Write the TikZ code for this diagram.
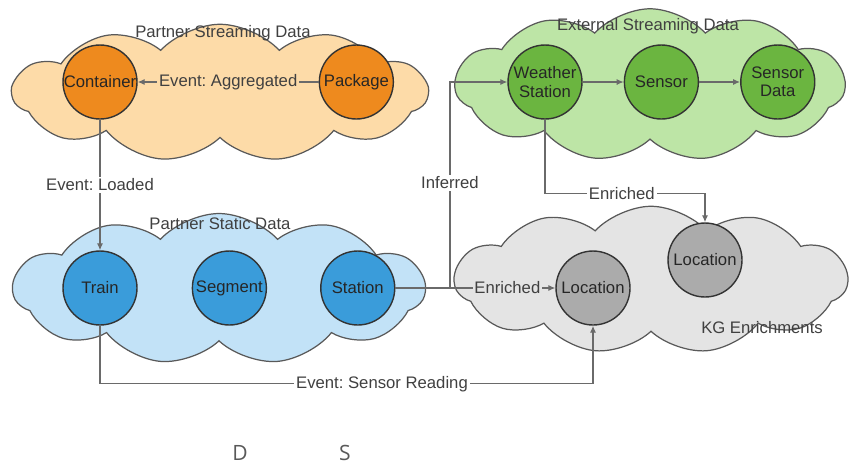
\documentclass[tikz,border=0pt]{standalone}
\usepackage{fontspec}
\setmainfont{Liberation Sans}
\newfontfamily\strayfont{Open Sans}
\usepackage{tikz}
\usetikzlibrary{positioning}
\usetikzlibrary{shapes.symbols}
\usetikzlibrary{arrows.meta}
\frenchspacing
\definecolor{peach}{HTML}{FDDBA8}
\definecolor{orangedot}{HTML}{EE8A1E}
\definecolor{greenback}{HTML}{BDE5A6}
\definecolor{greendot}{HTML}{6BB540}
\definecolor{blueback}{HTML}{C2E2F7}
\definecolor{bluedot}{HTML}{3A9CDA}
\definecolor{kgback}{HTML}{E4E4E4}
\definecolor{graydot}{HTML}{ABABAB}
\definecolor{linegray}{HTML}{6A6A6A}
\tikzstyle{cloudbox} = [cloud, draw=black!65, line width=0.7pt, cloud puffs=11, cloud puff arc=95, cloud ignores aspect, inner sep=0pt]
\tikzstyle{entity} = [circle, draw=black!80, line width=0.8pt, minimum size=1.48cm, inner sep=0pt, align=center, text=black!85]
\tikzstyle{link} = [draw=linegray, line width=0.7pt, -{Latex[length=4pt,width=3.5pt]}]
\tikzstyle{tag} = [inner sep=1pt, text=black!75]
\tikzstyle{title} = [text=black!75]
\tikzstyle{stray} = [text=black!65, font=\strayfont\fontsize{12}{14}\selectfont]

\begin{document}
\begin{tikzpicture}[x=0.02cm, y=-0.02cm, font=\fontsize{9.5}{10.5}\selectfont]
    \useasboundingbox (0,0) rectangle (851,464);
    % clouds
    \node [cloudbox, fill=peach, minimum width=8.3cm, minimum height=2.75cm] (partnerstream) at (220,93) {};
    \node [cloudbox, fill=greenback, minimum width=7.8cm, minimum height=3.05cm] (extstream) at (650,85) {};
    \node [cloudbox, fill=blueback, minimum width=8.24cm, minimum height=3.02cm] (partnerstatic) at (219,289) {};
    \node [cloudbox, fill=kgback, minimum width=7.86cm, minimum height=2.95cm] (kgenrich) at (651,280) {};
    \node [title] at (223,33) {Partner Streaming Data};
    \node [title] at (648,26) {External Streaming Data};
    \node [title] at (220,224) {Partner Static Data};
    \node [title] at (762,328) {KG Enrichments};

    \node [entity, fill=orangedot] (container) at (100,82) {Container};
    \node [entity, fill=orangedot, right=3.62cm of container] (package) {Package};
    \node [entity, fill=greendot] (wstation) at (545,82) {Weather\\Station};
    \node [entity, fill=greendot, right=0.82cm of wstation] (sensor) {Sensor};
    \node [entity, fill=greendot, right=0.82cm of sensor] (sensordata) {Sensor\\Data};
    \node [entity, fill=bluedot] (train) at (100,288) {Train};
    \node [entity, fill=bluedot, right=1.08cm of train] (segment) {Segment};
    \node [entity, fill=bluedot, right=1.06cm of segment] (station) {Station};
    \node [entity, fill=graydot] (location) at (593,288) {Location};
    \node [entity, fill=graydot] (location1) at (705,260) {Location};
    \coordinate (split) at (450,288);

    \draw [link] (package) -- node[tag, fill=peach] {Event: Aggregated} (container); % connections
    \draw [link] (container) -- node[tag, fill=white] {Event: Loaded} (train);
    \draw [link] (wstation) -- (sensor);
    \draw [link] (sensor) -- (sensordata);
    \draw [link] (station) -- node[tag, fill=kgback, pos=0.7] {Enriched} (location);
    \draw [link] (split) |- node[tag, fill=white, pos=0.255] {Inferred} (wstation);
    \draw [link] (wstation.south) -- ++(0,74) -| node[tag, fill=white, pos=0.24] {Enriched} (location1.north);
    \draw [link] (train.south) -- ++(0,58) -| node[tag, fill=white, pos=0.286] {Event: Sensor Reading} (location.south);

    \node [stray] (d) at (240,453) {D};
    \node [stray] (s) at (345,453) {S};
\end{tikzpicture}
\end{document}
